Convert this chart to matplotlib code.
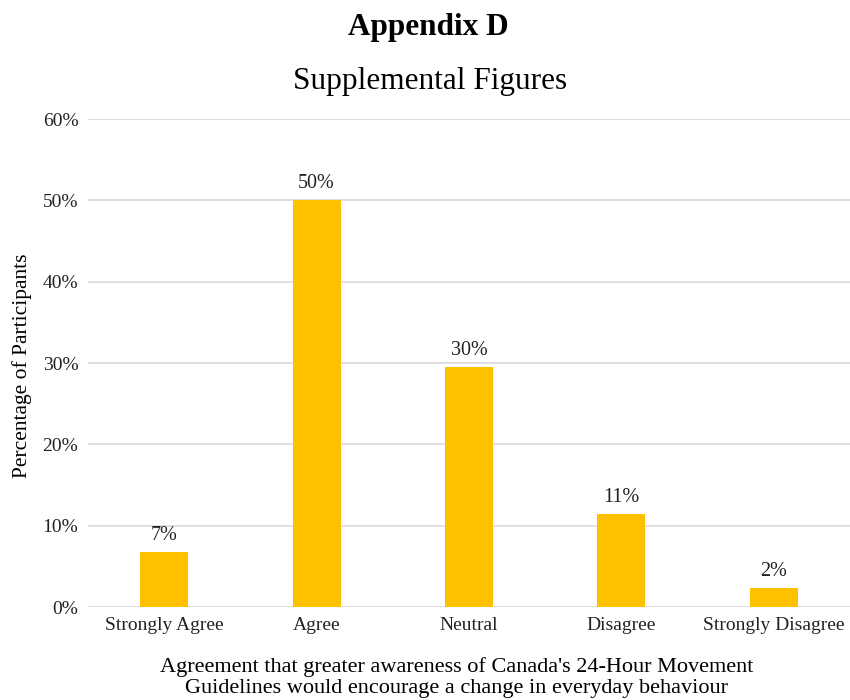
import matplotlib.pyplot as plt
import numpy as np

plt.rcParams['font.family'] = ['Liberation Serif', 'DejaVu Serif']

categories = ['Strongly Agree', 'Agree', 'Neutral', 'Disagree', 'Strongly Disagree']
percentages = [6.8, 50.0, 29.5, 11.4, 2.3]
value_labels = ['7%', '50%', '30%', '11%', '2%']
y_ticks = [0, 10, 20, 30, 40, 50, 60]

fig = plt.figure(figsize=(8.5, 7), dpi=100)
ax = fig.add_axes([88 / 850, 1 - 607 / 700, 762 / 850, 488 / 700])

x = np.arange(len(categories))
bars = ax.bar(x, percentages, width=0.316, color='#FFC000', zorder=3)

for bar, lbl in zip(bars, value_labels):
    ax.annotate(lbl, (bar.get_x() + bar.get_width() / 2, bar.get_height()),
                xytext=(0, 5), textcoords='offset points',
                ha='center', va='bottom', fontsize=14.5, color='#222222')

ax.set_xlim(-0.5, len(categories) - 0.5)
ax.set_ylim(0, 60)
ax.set_yticks(y_ticks)
ax.set_yticklabels([f'{t}%' for t in y_ticks], fontsize=14)
ax.set_xticks(x)
ax.set_xticklabels(categories, fontsize=14)
ax.tick_params(length=0, pad=7, colors='#222222')
ax.grid(axis='y', color='#D9D9D9', linewidth=1.2, zorder=0)
for s in ax.spines.values():
    s.set_visible(False)

fig.text(22 / 850, 1 - 366 / 700, 'Percentage of Participants', rotation=90,
         ha='center', va='center', fontsize=15.5)

fig.text(428 / 850, 1 - 28 / 700, 'Appendix D', ha='center', va='center',
         fontsize=22.5, fontweight='bold')
fig.text(430 / 850, 1 - 82 / 700, 'Supplemental Figures', ha='center', va='center',
         fontsize=22.5)
fig.text(457 / 850, 1 - 667 / 700,
         "Agreement that greater awareness of Canada's 24-Hour Movement",
         ha='center', va='center', fontsize=16)
fig.text(457 / 850, 1 - 688 / 700,
         "Guidelines would encourage a change in everyday behaviour",
         ha='center', va='center', fontsize=16)

fig.savefig('out.png', dpi=100)
